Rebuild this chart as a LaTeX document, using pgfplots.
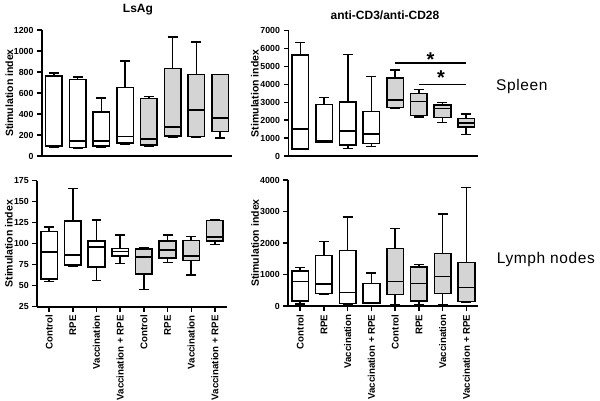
\documentclass[border=0pt]{standalone}
\usepackage{fontspec}
\setmainfont{Liberation Sans}
\usepackage{pgfplots}
\pgfplotsset{compat=1.18}
\usepgfplotslibrary{statistics}
\definecolor{boxgray}{RGB}{212,212,212}
\pgfplotsset{
 prism/.style={
  scale only axis, anchor=south west,
  xmin=-0.5, xmax=7.5,
  axis x line*=bottom, axis y line*=left,
  axis line style={line width=1.8pt,-},
  tick align=outside, major tick length=5pt,
  tick style={line width=1.5pt, black},
  /pgf/number format/assume math mode=true,
  /pgf/number format/set thousands separator={},
  yticklabel style={font=\bfseries\fontsize{8.8}{10}\selectfont},
  ylabel={Stimulation index},
  ylabel style={font=\bfseries\fontsize{10.5}{12}\selectfont, anchor=center},
  title style={anchor=center, yshift=-6pt, font=\bfseries\fontsize{12}{14}\selectfont},
  boxplot/draw direction=y,
  boxplot/box extend=0.7,
  boxplot/whisker extend=0.42,
  clip=false,
 },
 toprow/.style={xtick=\empty},
 botrow/.style={xtick={0,...,7},
  xticklabels={Control,RPE,Vaccination,Vaccination + RPE,Control,RPE,Vaccination,Vaccination + RPE},
  xticklabel style={rotate=90, anchor=east, font=\bfseries\fontsize{9.7}{11}\selectfont}},
 wbox/.style={draw=black, fill=white, line width=1.6pt, solid},
 gbox/.style={draw=black, fill=boxgray, line width=1.6pt, solid},
}
\newcommand{\bx}[7]{\addplot[#1, boxplot prepared={draw position=#2, lower whisker=#3, lower quartile=#4, median=#5, upper quartile=#6, upper whisker=#7}] coordinates {};}
\begin{document}
\begin{tikzpicture}
\useasboundingbox (0,0) rectangle (600pt,-401pt);
% top-left LsAg spleen
\begin{axis}[prism, toprow, at={(42pt,-156pt)}, width=190pt, height=126pt,
  ymin=0, ymax=1200, ytick={0,200,...,1200},
  ylabel style={at={(axis description cs:-0.172,0.5)}},
  title={LsAg}, title style={at={(axis description cs:0.505,1.159)}}]
\bx{wbox}{0}{85}{90}{95}{760}{790}
\bx{wbox}{1}{75}{80}{140}{730}{752}
\bx{wbox}{2}{88}{93}{140}{420}{552}
\bx{wbox}{3}{112}{124}{185}{653}{902}
\bx{gbox}{4}{97}{102}{163}{548}{565}
\bx{gbox}{5}{178}{188}{277}{835}{1135}
\bx{gbox}{6}{180}{185}{437}{778}{1088}
\bx{gbox}{7}{172}{233}{363}{778}{778}
\end{axis}
% top-right anti-CD3 spleen
\begin{axis}[prism, toprow, at={(288.5pt,-156pt)}, width=189.5pt, height=125.3pt,
  ymin=0, ymax=7000, ytick={0,1000,...,7000},
  ylabel style={at={(axis description cs:-0.177,0.5)}},
  title={anti-CD3/anti-CD28}, title style={at={(axis description cs:0.509,1.123)}}]
\bx{wbox}{0}{391}{400}{1508}{5642}{6349}
\bx{wbox}{1}{782}{790}{850}{2868}{3258}
\bx{wbox}{2}{428}{614}{1397}{3016}{5679}
\bx{wbox}{3}{521}{707}{1229}{2476}{4431}
\bx{gbox}{4}{2644}{2718}{3128}{4357}{4804}
\bx{gbox}{5}{2178}{2253}{3054}{3500}{3724}
\bx{gbox}{6}{1862}{2145}{2647}{2849}{2978}
\bx{gbox}{7}{1190}{1620}{1844}{2106}{2346}
\draw[line width=1.5pt] (axis cs:4,5200) -- (axis cs:7,5200);
\draw[line width=1.5pt] (axis cs:5,4000) -- (axis cs:7,4000);
\node[anchor=north, inner sep=0pt, font=\bfseries\fontsize{20}{20}\selectfont] at (axis cs:5.5,5771) {*};
\node[anchor=north, inner sep=0pt, font=\bfseries\fontsize{20}{20}\selectfont] at (axis cs:5.94,4749) {*};
\end{axis}
% bottom-left LsAg lymph nodes
\begin{axis}[prism, botrow, at={(37.3pt,-306.7pt)}, width=189.5pt, height=126pt,
  ymin=25, ymax=175, ytick={25,50,...,175},
  ylabel style={at={(axis description cs:-0.15,0.5)}}]
\bx{wbox}{0}{54.8}{58.3}{90.1}{114.3}{120.2}
\bx{wbox}{1}{73.4}{74.6}{86.9}{127}{165.9}
\bx{wbox}{2}{56}{72.6}{96.4}{103.2}{128.2}
\bx{wbox}{3}{76.6}{85.7}{90.5}{94.4}{110.7}
\bx{gbox}{4}{45.6}{63.9}{84.5}{93.6}{95.6}
\bx{gbox}{5}{77.8}{83.3}{92.5}{103.2}{110.7}
\bx{gbox}{6}{62.7}{80.2}{85.3}{104}{108.7}
\bx{gbox}{7}{99.2}{103.2}{108.3}{127.4}{128.2}
\end{axis}
% bottom-right anti-CD3 lymph nodes
\begin{axis}[prism, botrow, at={(288.3pt,-306pt)}, width=190pt, height=126pt,
  ymin=0, ymax=4000, ytick={0,1000,...,4000},
  ylabel style={at={(axis description cs:-0.175,0.5)}}]
\bx{wbox}{0}{63}{159}{772}{1111}{1227}
\bx{wbox}{1}{360}{402}{698}{1608}{2042}
\bx{wbox}{2}{63}{85}{434}{1756}{2825}
\bx{wbox}{3}{80}{85}{106}{719}{1047}
\bx{gbox}{4}{32}{370}{772}{1820}{2465}
\bx{gbox}{5}{53}{159}{709}{1238}{1323}
\bx{gbox}{6}{42}{402}{931}{1672}{2920}
\bx{gbox}{7}{106}{138}{582}{1375}{3756}
\end{axis}
\node[anchor=base west, inner sep=0pt, font=\fontsize{15.5}{18}\selectfont] at (496pt,-91pt) {\addfontfeatures{LetterSpace=4}Spleen};
\node[anchor=base west, inner sep=0pt, font=\fontsize{15.5}{18}\selectfont] at (496.7pt,-263.7pt) {\addfontfeatures{LetterSpace=4}Lymph nodes};
\end{tikzpicture}
\end{document}
